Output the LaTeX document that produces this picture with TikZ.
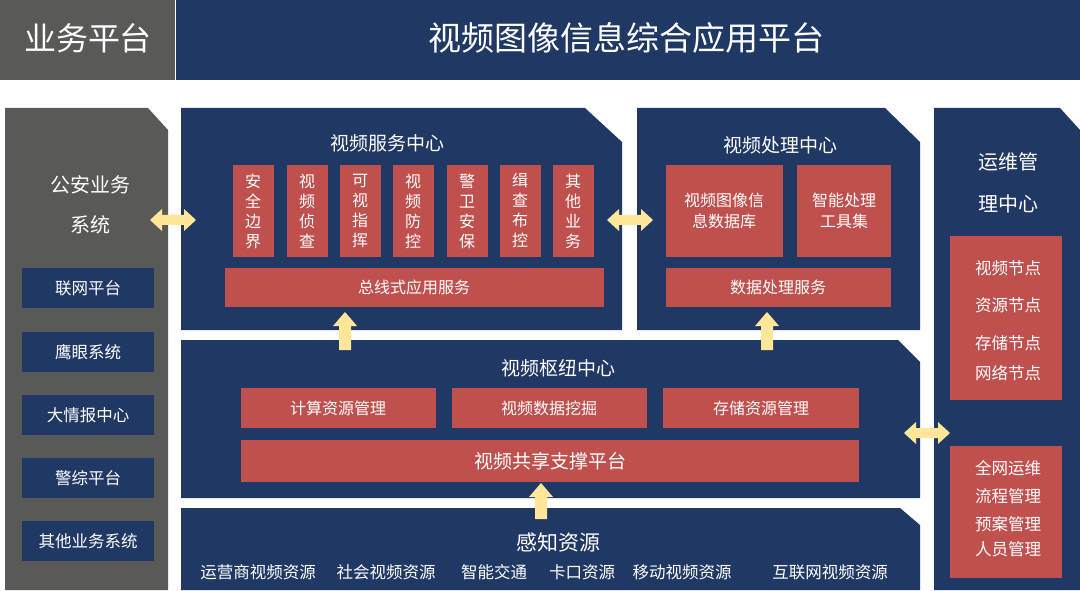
\documentclass[tikz,border=0pt]{standalone}
\usepackage{fontspec}
\setmainfont{Noto Sans CJK SC}
\usetikzlibrary{positioning}
\definecolor{navy}{RGB}{32,56,100}
\definecolor{slate}{RGB}{89,89,87}
\definecolor{brick}{RGB}{192,80,77}
\definecolor{sand}{RGB}{255,230,153}
\tikzset{
  redbox/.style={fill=brick,draw=none,text=white,inner sep=0pt,font=\fontsize{16}{19}\selectfont,align=center},
  navybox/.style={fill=navy,draw=none,text=white,inner sep=0pt,font=\fontsize{16.5}{19}\selectfont},
  title/.style={text=white,font=\fontsize{19}{24}\selectfont,align=center},
  plain/.style={text=white,font=\fontsize{16.5}{19}\selectfont}
}
\newcommand{\chamfer}[7]{\fill[#7] (#1,#2) -- (#5,#2) -- (#3,#6) -- (#3,#4) -- (#1,#4) -- cycle;}
\newcommand{\dblarrow}[2]{\fill[sand] (#1-23,#2) -- (#1-11,#2-11) -- (#1-11,#2-5) -- (#1+11,#2-5) -- (#1+11,#2-11) -- (#1+23,#2) -- (#1+11,#2+11) -- (#1+11,#2+5) -- (#1-11,#2+5) -- (#1-11,#2+11) -- cycle;}
\newcommand{\uparrowat}[3]{\fill[sand] (#1,#2) -- (#1+12,#2+14) -- (#1+6,#2+14) -- (#1+6,#3) -- (#1-6,#3) -- (#1-6,#2+14) -- (#1-12,#2+14) -- cycle;}
\begin{document}
\begin{tikzpicture}[x=1pt,y=-1pt]
\useasboundingbox (0,0) rectangle (1080,591);
\fill[white] (0,0) rectangle (1080,591);
% top bar
\fill[slate] (0,0) rectangle (175,80);
\fill[navy] (176,0) rectangle (1080,80);
\node[text=white,font=\fontsize{32}{36}\selectfont] (biz) at (88,38) {业务平台};
\node[text=white,font=\fontsize{33}{36}\selectfont] (head) at (626,38) {视频图像信息综合应用平台};
% panels
\chamfer{5}{108}{168}{590}{148}{130}{slate}
\chamfer{181}{108}{622}{330}{585}{142}{navy}
\chamfer{637}{108}{920}{330}{885}{142}{navy}
\chamfer{181}{340}{920}{498}{898}{362}{navy}
\chamfer{181}{508}{920}{590}{900}{525}{navy}
\chamfer{934}{108}{1080}{590}{1060}{130}{navy}
% left column
\node[title,font=\fontsize{20}{40}\selectfont] (police) at (90,205) {公安业务\\系统};
\foreach \y/\t [count=\i] in {288/联网平台,352/鹰眼系统,415/大情报中心,478/警综平台,541/其他业务系统}
  \node[navybox,minimum width=132pt,minimum height=40pt] (biz\i) at (88,\y) {\t};
% video service center
\node[title] (svc) at (387,143) {视频服务中心};
\foreach \x/\t [count=\i] in {253/安\\全\\边\\界,307/视\\频\\侦\\查,360/可\\视\\指\\挥,413/视\\频\\防\\控,467/警\\卫\\安\\保,520/缉\\查\\布\\控,573/其\\他\\业\\务}
  \node[redbox,minimum width=41pt,minimum height=92pt,font=\fontsize{16}{20}\selectfont] (app\i) at (\x,211) {\t};
\node[redbox,minimum width=379pt,minimum height=39pt] (bus) at (414,287) {总线式应用服务};
% processing center
\node[title] (proc) at (780,145) {视频处理中心};
\node[redbox,minimum width=117pt,minimum height=91pt,font=\fontsize{16}{21}\selectfont] (db) at (724,211) {视频图像信\\息数据库};
\node[redbox,minimum width=94pt,minimum height=91pt,font=\fontsize{16}{21}\selectfont] (tool) at (844,211) {智能处理\\工具集};
\node[redbox,minimum width=225pt,minimum height=39pt] (dps) at (778,287) {数据处理服务};
% hub
\node[title] (hub) at (558,368) {视频枢纽中心};
\node[redbox,minimum width=195pt,minimum height=40pt] (calc) at (338,408) {计算资源管理};
\node[redbox,minimum width=195pt,minimum height=40pt] (mine) at (549,408) {视频数据挖掘};
\node[redbox,minimum width=196pt,minimum height=40pt] (store) at (761,408) {存储资源管理};
\node[redbox,minimum width=618pt,minimum height=42pt,font=\fontsize{19}{22}\selectfont] (share) at (550,461) {视频共享支撑平台};
% sensing
\node[title,font=\fontsize{21}{24}\selectfont] (sense) at (558,543) {感知资源};
\foreach \x/\t [count=\i] in {258/运营商视频资源,386/社会视频资源,494/智能交通,582/卡口资源,682/移动视频资源,830/互联网视频资源}
  \node[plain] (src\i) at (\x,572) {\t};
% ops
\node[title,font=\fontsize{20}{42}\selectfont] (ops) at (1008,183) {运维管\\理中心};
\fill[brick] (950,236) rectangle (1062,400);
\foreach \y/\t [count=\i] in {268/视频节点,305/资源节点,343/存储节点,373/网络节点}
  \node[plain] (node\i) at (1008,\y) {\t};
\fill[brick] (950,446) rectangle (1062,578);
\foreach \y/\t [count=\i] in {468/全网运维,496/流程管理,524/预案管理,549/人员管理}
  \node[plain] (mgmt\i) at (1008,\y) {\t};
% arrows
\dblarrow{173}{220}
\dblarrow{630}{220}
\dblarrow{927}{433}
\uparrowat{345}{312}{350}
\uparrowat{767}{312}{350}
\uparrowat{541}{483}{519}
\end{tikzpicture}
\end{document}
